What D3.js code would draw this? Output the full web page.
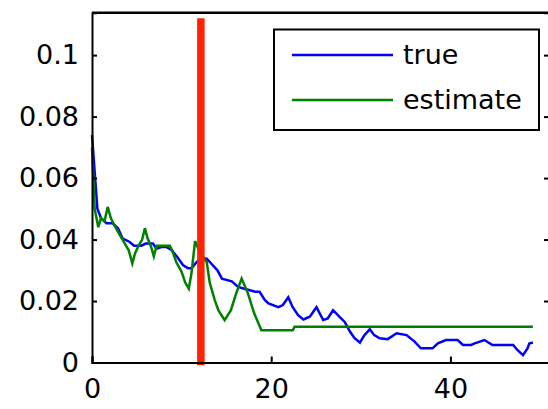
<!DOCTYPE html>
<html>
<head>
<meta charset="utf-8">
<script src="https://cdn.jsdelivr.net/npm/d3@7"></script>
<style>
  body { margin: 0; background: #fff; }
  svg text { font-family: "DejaVu Sans", sans-serif; font-size: 27px; fill: #000; }
</style>
</head>
<body>
<svg id="chart" width="548" height="409"></svg>
<script>
// values
const trueX = [0, 0.6, 1.0, 1.6, 2.3, 2.9, 3.4, 4.2, 4.7, 5.5, 6.0, 6.8, 7.2, 7.8, 8.3, 8.9, 9.6, 10.15, 10.7, 11.1, 11.7, 12.2, 12.8, 13.3, 14.0, 14.5, 15.6, 16.3, 17.0, 18.2, 18.7, 19.3, 19.7, 20.8, 21.3, 21.9, 22.4, 23.0, 23.6, 24.3, 25.05, 25.8, 26.3, 26.9, 27.6, 28.2, 28.8, 29.3, 29.9, 30.4, 31.0, 31.5, 32.1, 33.0, 34.0, 35.1, 36.0, 36.7, 38.0, 38.6, 39.5, 40.8, 41.4, 42.3, 42.7, 43.8, 44.4, 44.7, 47.0, 47.5, 48.1, 48.6, 48.8, 49.2];
const trueY = [0.074, 0.050, 0.047, 0.0453, 0.0453, 0.0437, 0.0404, 0.0392, 0.038, 0.038, 0.0387, 0.0387, 0.037, 0.0376, 0.0376, 0.0365, 0.034, 0.0317, 0.0307, 0.0307, 0.0327, 0.034, 0.0338, 0.0322, 0.030, 0.0273, 0.0264, 0.0246, 0.024, 0.023, 0.023, 0.0203, 0.0192, 0.018, 0.0187, 0.0212, 0.018, 0.0154, 0.014, 0.0149, 0.018, 0.0138, 0.0143, 0.017, 0.0149, 0.0132, 0.010, 0.0079, 0.0065, 0.0089, 0.0108, 0.0089, 0.0079, 0.0076, 0.0095, 0.0089, 0.0068, 0.0046, 0.0046, 0.0062, 0.0073, 0.0073, 0.0057, 0.0057, 0.0062, 0.0073, 0.0062, 0.0057, 0.0057, 0.004, 0.0024, 0.0046, 0.0062, 0.0065];

const estX = [0, 0.3, 0.7, 1.0, 1.4, 1.75, 2.1, 2.5, 3.0, 3.6, 4.1, 4.5, 4.8, 5.2, 5.6, 5.9, 6.2, 6.6, 6.9, 7.2, 8.7, 9.0, 9.4, 10.0, 10.4, 10.8, 11.1, 11.5, 12.0, 12.8, 13.15, 13.7, 14.1, 14.8, 15.5, 16.1, 16.7, 17.4, 18.1, 18.9, 22.4, 22.6, 49.2];
const estY = [0.070, 0.050, 0.044, 0.047, 0.046, 0.0506, 0.047, 0.0446, 0.042, 0.039, 0.0365, 0.0322, 0.0355, 0.038, 0.040, 0.0437, 0.0404, 0.0376, 0.0345, 0.038, 0.038, 0.036, 0.0327, 0.0295, 0.026, 0.024, 0.029, 0.0395, 0.036, 0.0327, 0.0258, 0.0203, 0.017, 0.0138, 0.017, 0.0226, 0.0273, 0.0225, 0.016, 0.0105, 0.0105, 0.0116, 0.0116];

const cutoffX = 12.15;
const xTicks = [0, 20, 40];
const yTicks = [0, 0.02, 0.04, 0.06, 0.08, 0.1];
const yTickLabels = ["0", "0.02", "0.04", "0.06", "0.08", "0.1"];
const seriesNames = ["true", "estimate"];
const seriesColors = ["#0000ff", "#008000"];

const svg = d3.select("#chart");

const x = d3.scaleLinear().domain([0, 51]).range([92, 549]);
const y = d3.scaleLinear().domain([0, 0.1138]).range([362.5, 12.7]);

const trueData = trueX.map((v, i) => [v, trueY[i]]);
const estData = estX.map((v, i) => [v, estY[i]]);

const line = d3.line().x(d => x(d[0])).y(d => y(d[1]));

// series
svg.append("path").datum(trueData)
    .attr("d", line)
    .attr("fill", "none")
    .attr("stroke", seriesColors[0])
    .attr("stroke-width", 2.5);

svg.append("path").datum(estData)
    .attr("d", line)
    .attr("fill", "none")
    .attr("stroke", seriesColors[1])
    .attr("stroke-width", 2.5);

// red marker line
svg.append("line")
    .attr("x1", x(cutoffX)).attr("x2", x(cutoffX))
    .attr("y1", y(0.112)).attr("y2", y(-0.0009))
    .attr("stroke", "#ff2200")
    .attr("stroke-width", 7.5);

// axes, ticks inside like matlab
const xAxis = d3.axisBottom(x).tickValues(xTicks).tickSize(-6).tickPadding(16);
const yAxis = d3.axisLeft(y).tickValues(yTicks).tickSize(-5).tickPadding(13)
    .tickFormat((d, i) => yTickLabels[i]);

const gx = svg.append("g").attr("transform", `translate(0,${y(0)})`).call(xAxis);
const gy = svg.append("g").attr("transform", `translate(${x(0)},0)`).call(yAxis);
const gr = svg.append("g").attr("transform", `translate(${x(51)},0)`)
    .call(d3.axisRight(y).tickValues(yTicks).tickSize(-5).tickFormat(""));

[gx, gy, gr].forEach(g => {
    g.select(".domain").attr("stroke", "#000").attr("stroke-width", 2);
    g.selectAll(".tick line").attr("stroke", "#000").attr("stroke-width", 2);
    g.selectAll("text").attr("font-size", null).attr("font-family", null);
});
gx.selectAll("text").attr("dy", "0.71em");

// top border
svg.append("line")
    .attr("x1", x(0)).attr("x2", x(51))
    .attr("y1", y(0.1138)).attr("y2", y(0.1138))
    .attr("stroke", "#000").attr("stroke-width", 2.5);

// legend
const legend = svg.append("g");
legend.append("rect")
    .attr("x", 274).attr("y", 29.5)
    .attr("width", 265).attr("height", 100.5)
    .attr("fill", "#fff")
    .attr("stroke", "#000").attr("stroke-width", 2);

seriesNames.forEach((name, i) => {
    const ly = 55 + i * 45;
    legend.append("line")
        .attr("x1", 292).attr("x2", 393)
        .attr("y1", ly).attr("y2", ly)
        .attr("stroke", seriesColors[i])
        .attr("stroke-width", 2.5);
    legend.append("text")
        .attr("x", 403).attr("y", ly)
        .attr("dy", "0.35em")
        .text(name);
});
</script>
</body>
</html>
